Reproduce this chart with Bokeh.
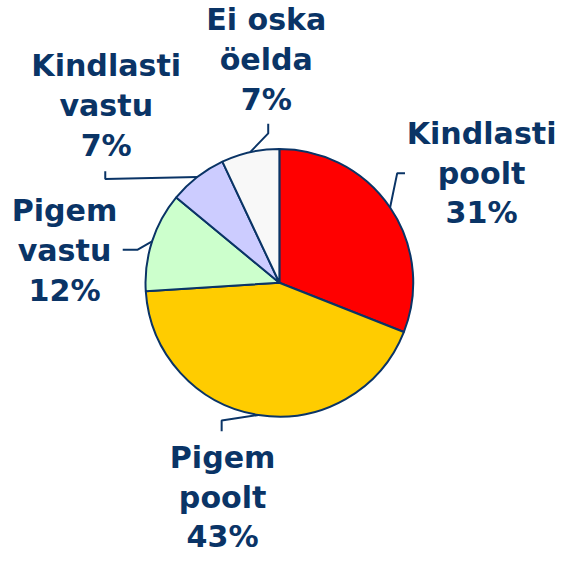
import math
from bokeh.plotting import figure
from bokeh.models import Range1d, ColumnDataSource
from bokeh.core.properties import value
from bokeh.embed import file_html
from bokeh.resources import INLINE

# ---- data ----
categories = ["Kindlasti poolt", "Pigem poolt", "Pigem vastu", "Kindlasti vastu", "Ei oska öelda"]
label_lines = [["Kindlasti", "poolt"], ["Pigem", "poolt"], ["Pigem", "vastu"],
               ["Kindlasti", "vastu"], ["Ei oska", "öelda"]]
values = [31, 43, 12, 7, 7]
colors = ["#FF0000", "#FFCC00", "#CCFFCC", "#CCCCFF", "#F8F8F8"]

# ---- layout (reference pixel coords, y down) ----
FW, FH = 566, 555
SCALE = 0.97
X0 = 2
X1 = X0 + FW / SCALE
Y0 = 3
Y1 = Y0 + FH / SCALE
def Y(py):
    return Y1 - py + Y0  # y-up data coordinate

CX, CY, R = 289.5, 294, 138
NAVY = "#0A3466"
FS = 31 * SCALE
LINE_GAP = 41
TEXT_SHIFT = 10          # renderer places baseline lower; compensate
label_pos = [(498, 150), (231, 484), (68, 230), (111, 80), (276, 33)]
elbows = [
    [(411, 181), (419, 181)],
    [(230, 436), (230, 447)],
    [(143, 260), (128, 260)],
    [(110, 187), (110, 179)],
    [(278, 140), (278, 130)],
]

p = figure(width=FW, height=FH, output_backend="svg", toolbar_location=None,
           x_range=Range1d(X0, X1), y_range=Range1d(Y0, Y1),
           min_border=0, outline_line_color=None)
p.axis.visible = False
p.grid.visible = False
p.background_fill_color = "white"
p.border_fill_color = "white"

total = sum(values)
starts, ends, mids = [], [], []
acc = 0
for v in values:
    a0 = math.pi / 2 - 2 * math.pi * acc / total
    acc += v
    a1 = math.pi / 2 - 2 * math.pi * acc / total
    starts.append(a0)
    ends.append(a1)
    mids.append((a0 + a1) / 2)

src = ColumnDataSource(dict(start=starts, end=ends, color=colors, cat=categories))
p.wedge(x=CX, y=Y(CY), radius=R, start_angle="start", end_angle="end",
        direction="clock", fill_color="color", line_color=NAVY, line_width=2,
        source=src)

for m, el in zip(mids, elbows):
    ex = CX + R * math.cos(m)
    ey = Y(CY) + R * math.sin(m)
    xs = [ex] + [e[0] for e in el]
    ys = [ey] + [Y(e[1]) for e in el]
    p.line(xs, ys, line_color=NAVY, line_width=2)

tx, ty, tt = [], [], []
for lines, v, (lx, ly) in zip(label_lines, values, label_pos):
    for i, s in enumerate(lines + [f"{v}%"]):
        tx.append(lx)
        ty.append(Y(ly + i * LINE_GAP - TEXT_SHIFT))
        tt.append(s)
p.text(x=tx, y=ty, text=tt, text_align="center", text_baseline="alphabetic",
       text_font=value("DejaVu Sans"), text_font_style="bold",
       text_font_size=f"{FS:.1f}px", text_color=NAVY)

open("out.html", "w").write(file_html(p, INLINE))
